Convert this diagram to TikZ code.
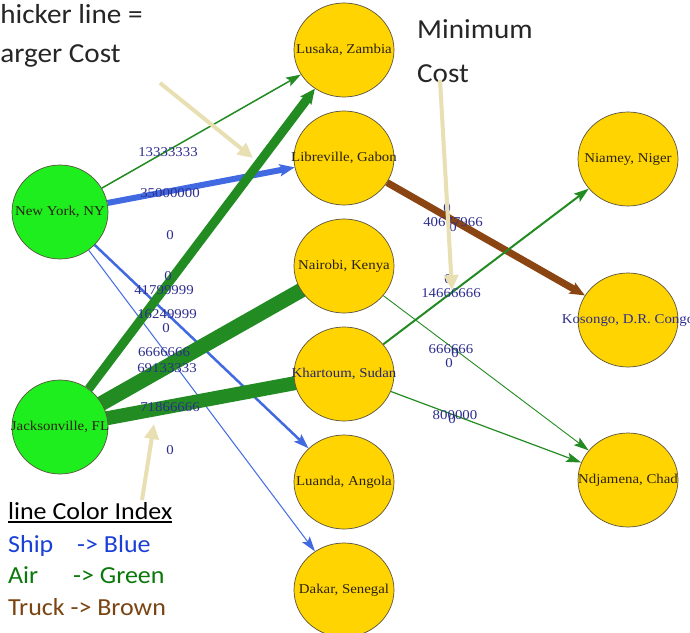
\documentclass[tikz,border=0pt]{standalone}
\usepackage{fontspec}
\setmainfont[FakeStretch=1.1]{Liberation Serif}
\newfontfamily\notefont[FakeStretch=1.06]{Carlito}
\usetikzlibrary{shapes.geometric,arrows.meta,backgrounds}
\definecolor{gold}{HTML}{FFD400}
\definecolor{hub}{HTML}{1EEE1E}
\definecolor{rim}{HTML}{5A5440}
\definecolor{ship}{HTML}{4169E1}
\definecolor{air}{HTML}{228B22}
\definecolor{truck}{HTML}{8B4513}
\definecolor{cost}{HTML}{2E2E8E}
\definecolor{hint}{HTML}{E8DFB2}
\definecolor{shipKey}{HTML}{1A40D6}
\definecolor{airKey}{HTML}{0B780B}
\definecolor{truckKey}{HTML}{7A4512}
\definecolor{ink}{HTML}{262626}
\definecolor{cityInk}{HTML}{2A2212}
\newcommand\cityName[1]{\makebox[0pt]{#1}}
\tikzset{
  cityNode/.style={ellipse, draw=rim, line width=0.7pt, fill=gold, minimum width=100pt,
    minimum height=94pt, inner sep=0pt, text=cityInk, font=\fontsize{13.5}{14}\selectfont},
  hubNode/.style={cityNode, fill=hub, minimum width=96pt},
  flowEdge/.style={-{Stealth[length=15pt, width=9pt 0.5, inset=3pt]}},
  shipEdge/.style={flowEdge, draw=ship},
  airEdge/.style={flowEdge, draw=air},
  truckEdge/.style={flowEdge, draw=truck},
  costLabel/.style={text=cost, inner sep=0pt, font=\fontsize{13.5}{14}\selectfont},
  noteText/.style={text=ink, anchor=base west, inner sep=0pt, font=\notefont\fontsize{27.5}{30}\selectfont},
  keyText/.style={anchor=base west, inner sep=0pt, font=\notefont\fontsize{24.5}{28}\selectfont},
  hintArrow/.style={draw=hint, line width=4pt, -{Triangle[length=15pt, width=14pt]}}
}

\begin{document}
\begin{tikzpicture}[x=1pt, y=-1pt]
  \useasboundingbox (0,0) rectangle (690,632);

  \node[hubNode] (ny) at (60,212) {\cityName{New York, NY}};
  \node[hubNode] (jax) at (60,427) {\cityName{Jacksonville, FL}};

  \node[cityNode] (lusaka) at (344,50) {\cityName{Lusaka, Zambia}};
  \node[cityNode] (libreville) at (344,158) {\cityName{Libreville, Gabon}};
  \node[cityNode] (nairobi) at (344,266) {\cityName{Nairobi, Kenya}};
  \node[cityNode] (khartoum) at (344,374) {\cityName{\color{cost!80!black}Khartoum, Sudan}};
  \node[cityNode] (luanda) at (344,482) {\cityName{Luanda, Angola}};
  \node[cityNode] (dakar) at (344,590) {\cityName{Dakar, Senegal}};

  \node[cityNode] (niamey) at (628,159) {\cityName{Niamey, Niger}};
  \node[cityNode] (kosongo) at (628,320) {\cityName{\color{cost}Kosongo, D.R. Congo}};
  \node[cityNode] (ndjamena) at (628,480) {\cityName{Ndjamena, Chad}};

  \begin{scope}[on background layer]
    \fill[white] (0,0) rectangle (690,632);
    \draw[airEdge, line width=1.5pt] (ny) -- (lusaka);
    \draw[shipEdge, line width=6pt] (ny) -- (libreville);
    \draw[shipEdge, line width=2.5pt] (ny) -- (luanda);
    \draw[shipEdge, line width=1pt] (ny) -- (dakar);
    \draw[airEdge, line width=9pt] (jax) -- (lusaka);
    % the widest flows run on under the circles
    \draw[airEdge, line width=15pt] (jax.center) -- (nairobi.center);
    \draw[airEdge, line width=14pt] (jax.center) -- (khartoum.center);
    \draw[truckEdge, line width=7pt] (libreville) -- (kosongo);
    \draw[airEdge, line width=2pt] (khartoum) -- (niamey);
    \draw[airEdge, line width=0.9pt] (nairobi) -- (ndjamena);
    \draw[airEdge, line width=1.2pt] (khartoum) -- (ndjamena);
  \end{scope}

  \node[costLabel] (cNyLus) at (168,152) {13333333};
  \node[costLabel] (cNyLib) at (170,193) {35000000};
  \node[costLabel] (zNyA) at (170,235) {0};
  \node[costLabel] (zNyB) at (168,276) {0};
  \node[costLabel] (cJaxLus) at (164,290) {41799999};
  \node[costLabel] (cNyLua) at (167,314) {16249999};
  \node[costLabel] (zNyC) at (166,328) {0};
  \node[costLabel] (cNyDak) at (164,352) {6666666};
  \node[costLabel] (cJaxNai) at (167,368) {69133333};
  \node[costLabel] (cJaxKha) at (170,407) {71866666};
  \node[costLabel] (zJax) at (170,450) {0};

  \node[costLabel] (zLibA) at (447,208) {0};
  \node[costLabel] (cLibKos) at (453,222) {40677966};
  \node[costLabel] (zLibB) at (453,227) {0};
  \node[costLabel] (zKhaA) at (448,279) {0};
  \node[costLabel] (cKhaNia) at (451,293) {14666666};
  \node[costLabel] (cNaiNdj) at (451,349) {666666};
  \node[costLabel] (zNaiA) at (455,353) {0};
  \node[costLabel] (zNaiB) at (449,363) {0};
  \node[costLabel] (cKhaNdj) at (455,415) {800000};
  \node[costLabel] (zKhaB) at (452,419) {0};

  \node[noteText] (noteThick) at (-14,23) {Thicker line =};
  \node[noteText] (noteLarge) at (-12,62) {Larger Cost};
  \node[noteText] (noteMin) at (417,38) {Minimum};
  \node[noteText] (noteCost) at (417,82) {Cost};

  \coordinate (hintA) at (160,83);
  \coordinate (hintATip) at (253,158);
  \coordinate (hintB) at (440,80);
  \coordinate (hintBTip) at (452,290);
  \coordinate (hintC) at (142,500);
  \coordinate (hintCTip) at (154,424);
  \draw[hintArrow] (hintA) -- (hintATip);
  \draw[hintArrow] (hintB) -- (hintBTip);
  \draw[hintArrow] (hintC) -- (hintCTip);

  \node[keyText, text=black] (keyTitle) at (8,519) {line Color Index};
  \draw[line width=1.6pt] ([yshift=-3pt]keyTitle.base west) -- ([yshift=-3pt]keyTitle.base east);
  \node[keyText, text=shipKey] (keyShip) at (8,552) {Ship};
  \node[keyText, text=shipKey] (keyBlue) at (77,552) {-> Blue};
  \node[keyText, text=airKey] (keyAir) at (8,583) {Air};
  \node[keyText, text=airKey] (keyGreen) at (73,583) {-> Green};
  \node[keyText, text=truckKey] (keyTruck) at (8,615) {Truck -> Brown};
\end{tikzpicture}
\end{document}
